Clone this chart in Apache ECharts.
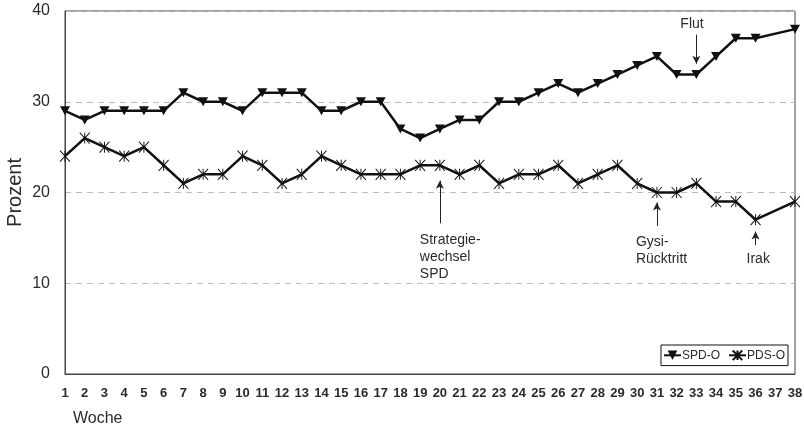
<!DOCTYPE html>
<html>
<head>
<meta charset="utf-8">
<script src="https://cdn.jsdelivr.net/npm/echarts@6/dist/echarts.min.js"></script>
<style>
  html, body { margin: 0; padding: 0; background: #fff; }
  #chart { width: 804px; height: 428px; }
</style>
</head>
<body>
<div id="chart"></div>
<script>
// Wochen 1..38
const weeks = [];
for (let i = 1; i <= 38; i++) weeks.push(String(i));

// Woche 37 fehlt in beiden Reihen
const spdO = [29, 28, 29, 29, 29, 29, 31, 30, 30, 29, 31, 31, 31, 29, 29, 30, 30, 27, 26, 27,
              28, 28, 30, 30, 31, 32, 31, 32, 33, 34, 35, 33, 33, 35, 37, 37, null, 38];
const pdsO = [24, 26, 25, 24, 25, 23, 21, 22, 22, 24, 23, 21, 22, 24, 23, 22, 22, 22, 23, 23,
              22, 23, 21, 22, 22, 23, 21, 22, 23, 21, 20, 20, 21, 19, 19, 17, null, 19];

const yTicks = [0, 10, 20, 30, 40];

// Ereignisse: Woche, Text, Pfeil von/bis (Prozentwerte), Textoberkante
const eventWeeks = ['33', '20', '31', '36'];
const eventTexts = ['Flut', 'Strategie-\nwechsel\nSPD', 'Gysi-\nRücktritt', 'Irak'];
const arrowFrom = [37.4, 16.6, 16.3, 14.2];
const arrowTo = [34.2, 21.3, 18.9, 15.7];
const textTop = [39.5, 15.7, 15.5, 13.6];
const textShift = [-16, -20, -21, -9];

const chart = echarts.init(document.getElementById('chart'));

const txtColor = '#2a2a2a';
const font = 'Liberation Sans, Arial, sans-serif';

const asterisk = 'path://M0,0L10,12M10,0L0,12M5,0L5,12';

const option = {
  animation: false,
  textStyle: { fontFamily: font },
  grid: {
    left: 65, right: 9, top: 11, bottom: 54,
    outerBoundsMode: 'none',
    containLabel: false,
    show: true, borderColor: '#444', borderWidth: 1
  },
  legend: {
    right: 16, top: 345,
    orient: 'horizontal',
    borderColor: '#111', borderWidth: 1,
    padding: [3, 3, 3, 2],
    itemGap: 8,
    itemWidth: 17, itemHeight: 12,
    textStyle: { fontSize: 12, color: txtColor, fontFamily: font, padding: [0, 0, 0, -4] },
    data: ['SPD-O', 'PDS-O']
  },
  title: {
    text: 'Woche',
    left: 68, top: 406,
    textStyle: { fontSize: 16, fontWeight: 'normal', color: txtColor, fontFamily: font }
  },
  xAxis: {
    type: 'category',
    data: weeks,
    boundaryGap: false,
    axisLine: { lineStyle: { color: '#444', width: 1 } },
    axisTick: { show: false },
    axisLabel: {
      interval: 0, margin: 13,
      fontSize: 13, fontWeight: 'bold', color: txtColor, fontFamily: font
    }
  },
  yAxis: {
    type: 'value',
    min: yTicks[0], max: yTicks[yTicks.length - 1], interval: 10,
    name: 'Prozent',
    nameLocation: 'middle',
    nameGap: 40,
    nameMoveOverlap: false,
    nameTextStyle: { fontSize: 20, color: txtColor, fontFamily: font },
    axisLine: { show: true, lineStyle: { color: '#444', width: 1 } },
    axisTick: { show: false },
    axisLabel: { margin: 15, fontSize: 16, color: txtColor, fontFamily: font },
    splitLine: { lineStyle: { color: '#bbb', type: [6, 5], width: 1 } }
  },
  series: [
    {
      name: 'SPD-O',
      type: 'line',
      data: spdO,
      connectNulls: true,
      symbol: 'triangle',
      symbolRotate: 180,
      symbolSize: [10, 9],
      itemStyle: { color: '#111' },
      lineStyle: { color: '#111', width: 2.5 },
      markLine: {
        silent: true,
        symbol: ['none', 'arrow'],
        symbolSize: [6, 8],
        lineStyle: { color: '#222', width: 1, type: 'solid' },
        label: { show: false },
        data: eventWeeks.map((w, i) => [
          { coord: [w, arrowFrom[i]] },
          { coord: [w, arrowTo[i]] }
        ])
      },
      markPoint: {
        silent: true,
        symbol: 'circle',
        symbolSize: 0,
        label: {
          show: true,
          align: 'left',
          verticalAlign: 'top',
          fontSize: 14,
          lineHeight: 17,
          color: txtColor,
          fontFamily: font
        },
        data: eventWeeks.map((w, i) => ({
          coord: [w, textTop[i]],
          label: { position: [textShift[i], 0], formatter: eventTexts[i] }
        }))
      }
    },
    {
      name: 'PDS-O',
      type: 'line',
      data: pdsO,
      connectNulls: true,
      symbol: asterisk,
      symbolSize: [10, 11],
      itemStyle: { color: 'none', borderColor: '#111', borderWidth: 1 },
      lineStyle: { color: '#111', width: 2.5 }
    }
  ]
};

chart.setOption(option);
</script>
</body>
</html>
